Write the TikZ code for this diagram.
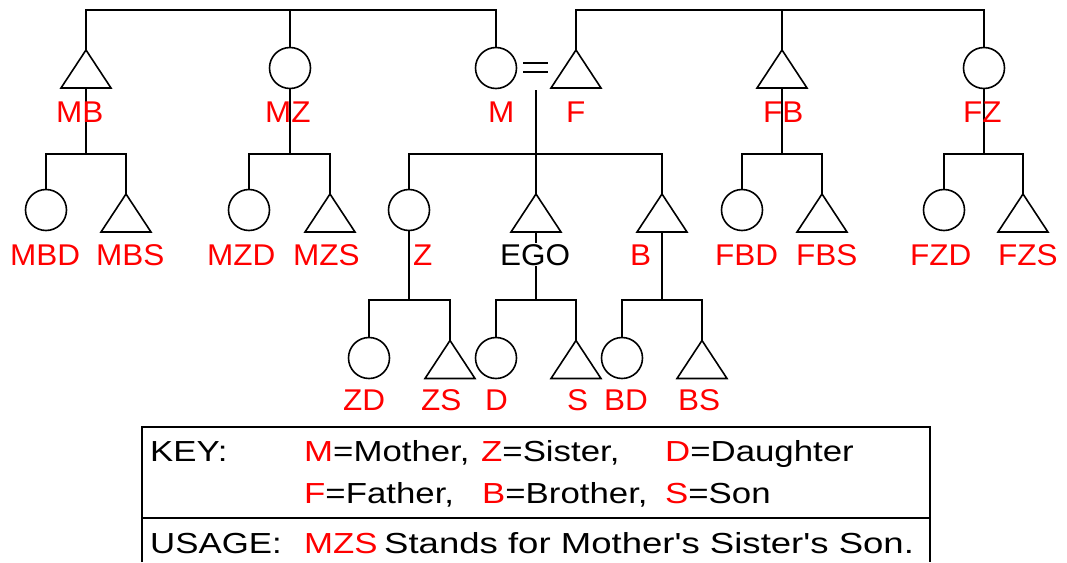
\documentclass[tikz,border=0pt]{standalone}
\usepackage{fontspec}
\setmainfont{Liberation Sans}
\newfontfamily\labfont[FakeStretch=1.05]{Liberation Sans}
\newfontfamily\keyfont[FakeStretch=1.2]{Liberation Sans}
\newfontfamily\usagefont[FakeStretch=1.26]{Liberation Sans}
\definecolor{kred}{RGB}{255,0,0}
\begin{document}
\begin{tikzpicture}[x=1pt,y=-1pt,
  conn/.style={line width=2pt},
  shp/.style={line width=1.6pt},
  fem/.style={circle,draw,shp,minimum size=41pt,inner sep=0pt},
  mal/.style={rectangle,minimum width=50pt,minimum height=38pt,inner sep=0pt,outer sep=0pt},
  lab/.style={anchor=base west,inner sep=0pt,text=kred,font=\labfont\fontsize{30}{36}\selectfont},
  keytxt/.style={anchor=base west,inner sep=0pt,font=\keyfont\fontsize{29}{35}\selectfont},
  boxline/.style={line width=2pt}]
\useasboundingbox (0,0) rectangle (1067,562);

% ---- person symbols ----
% row 1
\node[mal] (MB) at (86,69) {};
\node[fem] (MZ) at (290,68) {};
\node[fem] (M)  at (496,68) {};
\node[mal] (F)  at (576,69) {};
\node[mal] (FB) at (782,69) {};
\node[fem] (FZ) at (984,68) {};
% row 2
\node[fem] (MBD) at (46,210) {};
\node[mal] (MBS) at (126,213) {};
\node[fem] (MZD) at (249,210) {};
\node[mal] (MZS) at (330,213) {};
\node[fem] (Z)   at (409,210) {};
\node[mal] (EGO) at (536,213) {};
\node[mal] (B)   at (662,213) {};
\node[fem] (FBD) at (742,210) {};
\node[mal] (FBS) at (822,213) {};
\node[fem] (FZD) at (944,210) {};
\node[mal] (FZS) at (1023,213) {};
% row 3
\node[fem] (ZD) at (369,358) {};
\node[mal] (ZS) at (450,359.5) {};
\node[fem] (D)  at (496,358) {};
\node[mal] (S)  at (576,359.5) {};
\node[fem] (BD) at (622,358) {};
\node[mal] (BS) at (702,359.5) {};

\foreach \n in {MB,F,FB,MBS,MZS,EGO,B,FBS,FZS,ZS,S,BS}
  \draw[shp,line join=miter] (\n.south west) -- (\n.north) -- (\n.south east) -- cycle;

% ---- helper coordinates ----
\coordinate (top)  at (0,10);
\coordinate (bar1) at (0,154);
\coordinate (bar2) at (0,300);
\coordinate (marr) at (536,90);

% ---- marriage sign ----
\draw[conn] (523,63) -- (548,63);
\draw[conn] (523,72) -- (548,72);

% ---- sibling lines of parents ----
\draw[conn] (MB.north) -- (MB.north |- top) -| (M.north);
\draw[conn] (MZ.north) -- (MZ.north |- top);
\draw[conn] (F.north) -- (F.north |- top) -| (FZ.north);
\draw[conn] (FB.north) -- (FB.north |- top);

% ---- descent lines, generation 1 -> 2 ----
\draw[conn] (MB.south) -- (MB.south |- bar1);
\draw[conn] (MBD.north) -- (MBD.north |- bar1) -| (MBS.north);
\draw[conn] (MZ.south) -- (MZ.south |- bar1);
\draw[conn] (MZD.north) -- (MZD.north |- bar1) -| (MZS.north);
\draw[conn] (marr) -- (marr |- bar1);
\draw[conn] (Z.north) -- (Z.north |- bar1) -| (B.north);
\draw[conn] (EGO.north) -- (EGO.north |- bar1);
\draw[conn] (FB.south) -- (FB.south |- bar1);
\draw[conn] (FBD.north) -- (FBD.north |- bar1) -| (FBS.north);
\draw[conn] (FZ.south) -- (FZ.south |- bar1);
\draw[conn] (FZD.north) -- (FZD.north |- bar1) -| (FZS.north);

% ---- descent lines, generation 2 -> 3 ----
\draw[conn] (Z.south) -- (Z.south |- bar2);
\draw[conn] (ZD.north) -- (ZD.north |- bar2) -| (ZS.north);
\draw[conn] (EGO.south) -- (EGO.south |- bar2);
\draw[conn] (D.north) -- (D.north |- bar2) -| (S.north);
\draw[conn] (B.south) -- (B.south |- bar2);
\draw[conn] (BD.north) -- (BD.north |- bar2) -| (BS.north);

% ---- labels ----
\node[lab] (tMB) at (56,122) {MB};
\node[lab] (tMZ) at (265,122) {MZ};
\node[lab] (tM)  at (488,122) {M};
\node[lab] (tF)  at (566,122) {F};
\node[lab] (tFB) at (763,122) {FB};
\node[lab] (tFZ) at (963,122) {FZ};

\node[lab] (tMBD) at (10,265) {MBD};
\node[lab] (tMBS) at (96,265) {MBS};
\node[lab] (tMZD) at (207,265) {MZD};
\node[lab] (tMZS) at (293,265) {MZS};
\node[lab] (tZ)   at (413,265) {Z};
\node[lab,text=black,fill=white,inner ysep=1pt] (tEGO) at (500,265) {EGO};
\node[lab] (tB)   at (630,265) {B};
\node[lab] (tFBD) at (715,265) {FBD};
\node[lab] (tFBS) at (796,265) {FBS};
\node[lab] (tFZD) at (910,265) {FZD};
\node[lab] (tFZS) at (998,265) {FZS};

\node[lab] (tZD) at (343,410) {ZD};
\node[lab] (tZS) at (421,410) {ZS};
\node[lab] (tD)  at (485,410) {D};
\node[lab] (tS)  at (567,410) {S};
\node[lab] (tBD) at (604,410) {BD};
\node[lab] (tBS) at (678,410) {BS};

% ---- key box ----
\draw[boxline] (142,562) -- (142,427) -- (930,427) -- (930,562);
\draw[boxline] (142,518) -- (930,518);

\node[keytxt] (kKey) at (150,461) {KEY:};
\node[keytxt] (kM) at (304,461) {\textcolor{kred}{M}=Mother,};
\node[keytxt] (kZ) at (481,461) {\textcolor{kred}{Z}=Sister,};
\node[keytxt] (kD) at (665,461) {\textcolor{kred}{D}=Daughter};
\node[keytxt] (kF) at (304,503) {\textcolor{kred}{F}=Father,};
\node[keytxt] (kB) at (482,503) {\textcolor{kred}{B}=Brother,};
\node[keytxt] (kS) at (665,503) {\textcolor{kred}{S}=Son};
\node[keytxt] (kUse) at (150,553) {USAGE:};
\node[keytxt] (kMZS) at (304,553) {\textcolor{kred}{MZS}};
\node[keytxt,font=\usagefont\fontsize{29}{35}\selectfont] (kSent) at (384,553) {Stands for Mother's Sister's Son.};
\end{tikzpicture}
\end{document}
